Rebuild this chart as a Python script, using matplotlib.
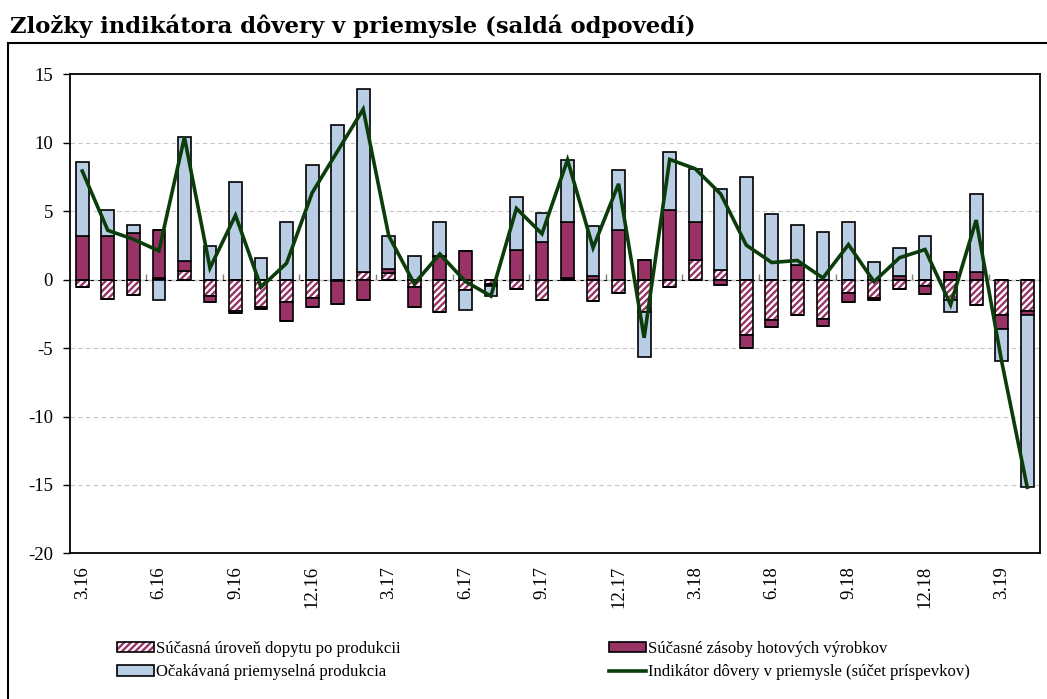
import numpy as np
import matplotlib
matplotlib.use('Agg')
import matplotlib.pyplot as plt
from matplotlib.patches import Patch, Rectangle
from matplotlib.lines import Line2D

# mesiace 3.16 - 4.19
months = ['3.16', '4.16', '5.16', '6.16', '7.16', '8.16', '9.16', '10.16', '11.16', '12.16',
          '1.17', '2.17', '3.17', '4.17', '5.17', '6.17', '7.17', '8.17', '9.17', '10.17',
          '11.17', '12.17', '1.18', '2.18', '3.18', '4.18', '5.18', '6.18', '7.18', '8.18',
          '9.18', '10.18', '11.18', '12.18', '1.19', '2.19', '3.19', '4.19']

# Súčasná úroveň dopytu po produkcii
dopyt = [-0.56, -1.41, -1.12, 0.15, 0.61, -1.17, -2.27, -2.02, -1.63, -1.32,
         -0.10, 0.54, 0.52, -0.54, -2.37, -0.78, -0.32, -0.68, -1.46, 0.12,
         -1.59, -0.98, -2.37, -0.54, 1.41, 0.73, -4.02, -2.93, -2.61, -2.88,
         -0.98, -1.34, -0.68, -0.44, -1.46, -1.85, -2.56, -2.27]
# Súčasné zásoby hotových výrobkov
zasoby = [3.17, 3.22, 3.44, 3.48, 0.78, -0.44, -0.17, -0.15, -1.42, -0.66,
          -1.65, -1.46, 0.22, -1.49, 1.70, 2.07, -0.17, 2.20, 2.73, 4.10,
          0.24, 3.61, 1.46, 5.12, 2.79, -0.37, -0.98, -0.56, 1.10, -0.49,
          -0.68, -0.17, 0.30, -0.61, 0.54, 0.54, -1.05, -0.34]
# Očakávaná priemyselná produkcia
ocakavana = [5.42, 1.90, 0.58, -1.46, 9.05, 2.49, 7.15, 1.59, 4.24, 8.34,
             11.29, 13.41, 2.48, 1.71, 2.54, -1.42, -0.73, 3.82, 2.15, 4.51,
             3.71, 4.37, -3.29, 4.20, 3.85, 5.86, 7.49, 4.78, 2.90, 3.49,
             4.24, 1.32, 2.04, 3.22, -0.91, 5.68, -2.37, -12.56]
# Indikátor dôvery v priemysle
indikator = [7.93, 3.60, 2.95, 2.10, 10.40, 0.85, 4.70, -0.55, 1.20, 6.34,
             9.40, 12.45, 3.20, -0.30, 1.87, -0.13, -1.20, 5.20, 3.35, 8.75,
             2.33, 7.00, -4.25, 8.78, 8.10, 6.25, 2.52, 1.25, 1.40, 0.12,
             2.56, -0.15, 1.60, 2.20, -1.83, 4.35, -5.98, -15.17]

purple = '#993366'
blue = '#b9cde5'
green = '#0b3d0b'
serif = ['Liberation Serif', 'DejaVu Serif']

plt.rcParams['hatch.linewidth'] = 1.7

fig = plt.figure(figsize=(10.47, 6.99), dpi=100)
ax = fig.add_axes([69.5 / 1047, 1 - 553.4 / 699, (1040 - 69.5) / 1047, (553.4 - 74.3) / 699])

x = np.arange(len(months))
vals = np.array([dopyt, zasoby, ocakavana])
pos = np.clip(vals, 0, None)
neg = np.clip(vals, None, 0)
pos_bot = np.vstack([np.zeros(len(x)), np.cumsum(pos, axis=0)[:-1]])
neg_bot = np.vstack([np.zeros(len(x)), np.cumsum(neg, axis=0)[:-1]])

w = 0.5
ew = 1.2
for part, bot in ((pos, pos_bot), (neg, neg_bot)):
    # dopyt - šrafovanie
    ax.bar(x, part[0], w, bottom=bot[0], color='white', edgecolor=purple, hatch='/////', linewidth=0, zorder=2)
    ax.bar(x, part[0], w, bottom=bot[0], fill=False, edgecolor='black', linewidth=ew, zorder=3)
    ax.bar(x, part[1], w, bottom=bot[1], color=purple, edgecolor='black', linewidth=ew, zorder=3)
    ax.bar(x, part[2], w, bottom=bot[2], color=blue, edgecolor='black', linewidth=ew, zorder=3)

ax.plot(x, indikator, color=green, linewidth=2.6, zorder=4, solid_joinstyle='miter')

ax.set_xlim(-0.5, len(x) - 0.5)
ax.set_ylim(-20, 15)
ax.set_yticks(np.arange(-20, 16, 5))
ax.set_yticklabels([str(v) for v in range(-20, 16, 5)], family=serif, fontsize=13.5)
ax.set_xticks(x[::3])
ax.set_xticklabels(months[::3], rotation=90, family=serif, fontsize=13.5, va='top')
ax.tick_params(axis='x', length=0, pad=9)
ax.tick_params(axis='y', length=5, width=1, direction='out', pad=7)
ax.yaxis.grid(True, linestyle=(0, (4, 3)), color='#c8c8c8', linewidth=0.8)
ax.set_axisbelow(True)
for s in ax.spines.values():
    s.set_linewidth(1.3)
    s.set_color('black')

# nulová os s čiarkami
sec = ax.secondary_xaxis(20 / 35)
sec.spines['bottom'].set_color('#808080')
sec.spines['bottom'].set_linewidth(1.2)
sec.set_xticks(np.arange(2.5, len(x) - 1, 3))
sec.set_xticklabels([])
sec.tick_params(axis='x', length=4, width=1, color='#808080', direction='out')

fig.text(10 / 1047, 1 - 33 / 699, 'Zložky indikátora dôvery v priemysle (saldá odpovedí)',
         family=['DejaVu Serif'], fontweight='bold', fontsize=16.4, va='baseline', ha='left')

fig.patches.append(Rectangle((8 / 1047, -0.05), 1.1, 1.05 - 42.7 / 699, transform=fig.transFigure,
                             fill=False, edgecolor='black', linewidth=1.5))

h_dopyt = (Patch(facecolor='white', edgecolor=purple, hatch='/////', linewidth=0),
           Patch(fill=False, edgecolor='black', linewidth=ew))
h_zasoby = Patch(facecolor=purple, edgecolor='black', linewidth=ew)
h_ocak = Patch(facecolor=blue, edgecolor='black', linewidth=ew)
h_ind = Line2D([], [], color=green, linewidth=2.6)
fig.legend([h_dopyt, h_ocak, h_zasoby, h_ind],
           ['Súčasná úroveň dopytu po produkcii', 'Očakávaná priemyselná produkcia',
            'Súčasné zásoby hotových výrobkov', 'Indikátor dôvery v priemysle (súčet príspevkov)'],
           ncol=2, loc='upper left', bbox_to_anchor=(117 / 1047, 1 - 641 / 699), frameon=False,
           prop={'family': serif, 'size': 12}, handlelength=2.2, handleheight=0.6,
           handletextpad=0.15, columnspacing=12.5, labelspacing=0.45, borderaxespad=0, borderpad=0)

fig.savefig('out.png', dpi=100)
